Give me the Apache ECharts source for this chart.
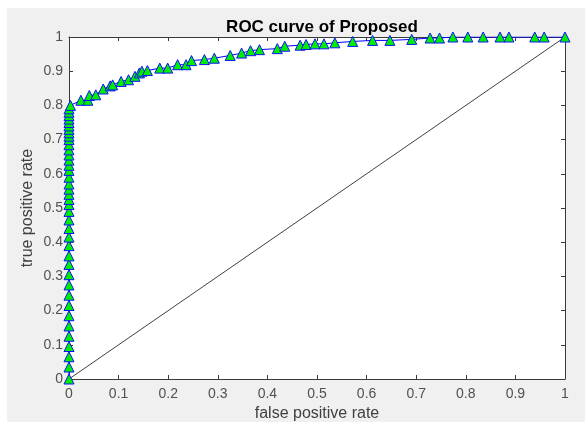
<!DOCTYPE html>
<html>
<head>
<meta charset="utf-8">
<script src="https://cdn.jsdelivr.net/npm/echarts@6/dist/echarts.min.js"></script>
<style>
html,body{margin:0;padding:0;background:#fff;}
#c{width:585px;height:422px;}
</style>
</head>
<body>
<div id="c"></div>
<script>
// ---- data ----
var titleText = "ROC curve of Proposed";
var xName = "false positive rate";
var yName = "true positive rate";

// vertical part of the ROC curve (fpr = 0)
var tprVertical = [0, 0.035, 0.065, 0.095, 0.125, 0.155, 0.185, 0.215, 0.245, 0.275, 0.305, 0.335, 0.36, 0.39, 0.415, 0.44, 0.465, 0.49, 0.51, 0.525, 0.54, 0.555, 0.57, 0.59, 0.61, 0.625, 0.64, 0.655, 0.67, 0.685, 0.70, 0.71, 0.72, 0.73, 0.74, 0.75, 0.76, 0.77, 0.78, 0.79];

// remaining part of the curve
var fprCurve = [0.003, 0.024, 0.038, 0.041, 0.054, 0.069, 0.083, 0.088, 0.105, 0.120, 0.133, 0.142, 0.147, 0.158, 0.183, 0.199, 0.219, 0.236, 0.247, 0.273, 0.293, 0.325, 0.348, 0.366, 0.384, 0.420, 0.435, 0.466, 0.478, 0.496, 0.514, 0.536, 0.572, 0.612, 0.647, 0.691, 0.728, 0.747, 0.774, 0.804, 0.835, 0.869, 0.887, 0.939, 0.958, 1.0];
var tprCurve = [0.800, 0.815, 0.815, 0.829, 0.831, 0.848, 0.857, 0.860, 0.870, 0.875, 0.885, 0.895, 0.900, 0.902, 0.909, 0.909, 0.919, 0.919, 0.931, 0.934, 0.938, 0.946, 0.953, 0.960, 0.963, 0.966, 0.973, 0.976, 0.978, 0.980, 0.980, 0.983, 0.987, 0.990, 0.990, 0.993, 0.997, 0.997, 1.0, 1.0, 1.0, 1.0, 1.0, 1.0, 1.0, 1.0];

// chance diagonal
var diagX = [0, 1];
var diagY = [0, 1];

// ---- build series data ----
var rocData = [];
tprVertical.forEach(function (y) { rocData.push([0, y]); });
fprCurve.forEach(function (x, i) { rocData.push([x, tprCurve[i]]); });
var diagData = diagX.map(function (x, i) { return [x, diagY[i]]; });

var axisColor = '#3a3a3a';
var labelColor = '#505050';
var font = 'Liberation Sans, Arial, sans-serif';

function baseAxis(pos, showLabel) {
  return {
    type: 'value', min: 0, max: 1, interval: 0.1, position: pos,
    axisLine: { show: true, onZero: false, lineStyle: { color: axisColor, width: 1 } },
    axisTick: { show: true, inside: true, length: 4, lineStyle: { color: axisColor } },
    splitLine: { show: false },
    axisLabel: { show: showLabel, color: labelColor, fontSize: 14, fontFamily: font,
      formatter: function (v) { return String(Math.round(v * 10) / 10); } }
  };
}

var xMain = baseAxis('bottom', true);
xMain.axisLabel.margin = 8;
xMain.name = xName;
xMain.nameLocation = 'middle';
xMain.nameGap = 27;
xMain.nameMoveOverlap = false;
xMain.nameTextStyle = { color: '#404040', fontSize: 16, fontFamily: font };
var xTop = baseAxis('top', false);

var yMain = baseAxis('left', true);
yMain.axisLabel.margin = 6;
yMain.name = yName;
yMain.nameLocation = 'middle';
yMain.nameGap = 33;
yMain.nameMoveOverlap = false;
yMain.nameTextStyle = { color: '#404040', fontSize: 16, fontFamily: font };
var yRight = baseAxis('right', false);

var chart = echarts.init(document.getElementById('c'), null, { renderer: 'canvas' });
chart.setOption({
  animation: false,
  backgroundColor: '#ffffff',
  graphic: [{
    type: 'rect', z: -10, silent: true,
    shape: { x: 7, y: 8, width: 578, height: 414 },
    style: { fill: '#f0f0f0' }
  }],
  title: {
    text: titleText, left: 317, top: 14, textAlign: 'center',
    textStyle: { color: '#000', fontSize: 17, fontWeight: 'bold', fontFamily: font }
  },
  grid: { left: 69, right: 20, top: 37, bottom: 43, show: true, backgroundColor: '#ffffff', borderWidth: 0, z: 0,
    containLabel: false, outerBoundsMode: 'none' },
  xAxis: [xMain, xTop],
  yAxis: [yMain, yRight],
  series: [
    {
      type: 'line', data: diagData, xAxisIndex: 0, yAxisIndex: 0,
      symbol: 'none', lineStyle: { color: '#404040', width: 1 }, z: 2
    },
    {
      type: 'line', data: rocData, xAxisIndex: 0, yAxisIndex: 0,
      symbol: 'triangle', symbolSize: 10, showAllSymbol: true,
      lineStyle: { color: '#0000ff', width: 1 },
      itemStyle: { color: '#00ee00', borderColor: '#1010ff', borderWidth: 1 },
      z: 3
    }
  ]
});
</script>
</body>
</html>
